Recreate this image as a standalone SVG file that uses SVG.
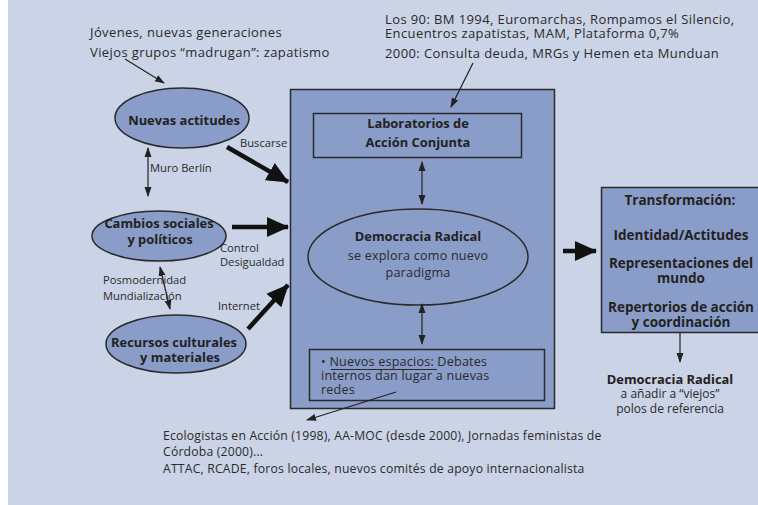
<svg xmlns="http://www.w3.org/2000/svg" width="758" height="505" viewBox="0 0 758 505">
<defs>
<marker id="a" markerUnits="userSpaceOnUse" markerWidth="10" markerHeight="10" viewBox="0 0 10 10" refX="9" refY="5" orient="auto-start-reverse"><path d="M0,1.5 L10,5 L0,8.5 Z" fill="#222"/></marker>
<marker id="b" markerUnits="userSpaceOnUse" markerWidth="22" markerHeight="22" viewBox="0 0 22 22" refX="21" refY="11" orient="auto"><path d="M0,1 L22,11 L0,21 Z" fill="#111"/></marker>
<style>
.t{font-family:"Open Sans","Liberation Sans",Arial,sans-serif;fill:#2a2a2a}
.s{font-size:13px;letter-spacing:0.4px}
.m{font-size:11.2px}
.l{font-size:12.6px;letter-spacing:0.2px}
.bt{font-size:12.2px;letter-spacing:0.2px}
.r{font-size:12px}
.bd{font-weight:bold;font-size:12.9px;fill:#222}
.tb{font-weight:bold;font-size:13.5px;fill:#222}
.node{fill:#8a9cc8;stroke:#2a2a2a;stroke-width:1.5}
.thin{stroke:#222;stroke-width:1.2;fill:none}
.thick{stroke:#111;stroke-width:4.5;fill:none}
</style>
</defs>
<rect x="0" y="0" width="758" height="505" fill="#ffffff"/>
<rect x="8" y="0" width="750" height="505" fill="#cbd3e6"/>

<g id="top-left-text" class="t s">
<text x="90" y="37">Jóvenes, nuevas generaciones</text>
<text x="90" y="57">Viejos grupos “madrugan”: zapatismo</text>
</g>
<g id="top-right-text" class="t s">
<text x="385" y="24">Los 90: BM 1994, Euromarchas, Rompamos el Silencio,</text>
<text x="385" y="38">Encuentros zapatistas, MAM, Plataforma 0,7%</text>
<text x="385" y="58">2000: Consulta deuda, MRGs y Hemen eta Munduan</text>
</g>

<g id="main-box"><rect class="node" x="290.5" y="89.5" width="264" height="319"/></g>
<g id="laboratorios">
<rect class="node" x="313.5" y="113.5" width="208" height="44"/>
<text class="t bd" x="418" y="128" text-anchor="middle">Laboratorios de</text>
<text class="t bd" x="418" y="147" text-anchor="middle">Acción Conjunta</text>
</g>
<g id="democracia">
<ellipse class="node" cx="418" cy="257" rx="110" ry="48" stroke-width="2"/>
<text class="t bd" x="418" y="241" text-anchor="middle">Democracia Radical</text>
<text class="t l" x="418" y="260" text-anchor="middle">se explora como nuevo</text>
<text class="t l" x="418" y="277" text-anchor="middle">paradigma</text>
</g>
<g id="nuevos-espacios">
<rect class="node" x="309.5" y="349.5" width="235" height="51"/>
<text class="t l" x="321" y="366">• Nuevos espacios: Debates</text>
<text class="t l" x="321" y="380">internos dan lugar a nuevas</text>
<text class="t l" x="321" y="394">redes</text>
<line x1="331" y1="369.5" x2="437" y2="369.5" stroke="#2a2a2a" stroke-width="1"/>
</g>

<g id="nuevas-actitudes">
<ellipse class="node" cx="182" cy="118" rx="67" ry="30"/>
<text class="t bd" x="184" y="125" text-anchor="middle">Nuevas actitudes</text>
</g>
<g id="cambios">
<ellipse class="node" cx="159" cy="236" rx="67" ry="25"/>
<text class="t bd" x="159" y="228" text-anchor="middle">Cambios sociales</text>
<text class="t bd" x="160" y="244" text-anchor="middle">y políticos</text>
</g>
<g id="recursos">
<ellipse class="node" cx="176" cy="344" rx="70" ry="29"/>
<text class="t bd" x="174" y="347" text-anchor="middle">Recursos culturales</text>
<text class="t bd" x="180" y="362" text-anchor="middle">y materiales</text>
</g>

<g id="transformacion">
<rect class="node" x="601.5" y="187.5" width="160" height="145"/>
<text class="t tb" x="680" y="205" text-anchor="middle" font-size="13">Transformación:</text>
<text class="t tb" x="681" y="240" text-anchor="middle">Identidad/Actitudes</text>
<text class="t tb" x="681" y="268" text-anchor="middle">Representaciones del</text>
<text class="t tb" x="681" y="283" text-anchor="middle">mundo</text>
<text class="t tb" x="681" y="312" text-anchor="middle">Repertorios de acción</text>
<text class="t tb" x="681" y="327" text-anchor="middle">y coordinación</text>
</g>
<g id="democracia-final">
<text class="t bd" x="670" y="384" text-anchor="middle">Democracia Radical</text>
<text class="t r" x="670" y="398" text-anchor="middle">a añadir a “viejos”</text>
<text class="t r" x="670" y="413" text-anchor="middle">polos de referencia</text>
</g>

<g id="bottom-text" class="t bt">
<text x="163" y="440">Ecologistas en Acción (1998), AA-MOC (desde 2000), Jornadas feministas de</text>
<text x="163" y="456">Córdoba (2000)...</text>
<text x="163" y="473">ATTAC, RCADE, foros locales, nuevos comités de apoyo internacionalista</text>
</g>

<g id="connectors">
<line class="thin" x1="125" y1="59" x2="164" y2="83" marker-end="url(#a)"/>
<line class="thin" x1="473" y1="63" x2="451" y2="107" marker-end="url(#a)"/>
<line class="thin" x1="148" y1="148" x2="148" y2="196" marker-start="url(#a)" marker-end="url(#a)"/>
<line class="thin" x1="160" y1="267" x2="170" y2="309" marker-start="url(#a)" marker-end="url(#a)"/>
<line class="thin" x1="422" y1="162" x2="422" y2="204" marker-start="url(#a)" marker-end="url(#a)"/>
<line class="thin" x1="422" y1="304" x2="422" y2="344" marker-start="url(#a)" marker-end="url(#a)"/>
<line class="thin" x1="396" y1="392" x2="307" y2="420" marker-end="url(#a)"/>
<line class="thin" x1="680" y1="333" x2="680" y2="362" marker-end="url(#a)"/>
<line class="thick" x1="227" y1="147" x2="288" y2="182" marker-end="url(#b)"/>
<line class="thick" x1="232" y1="227" x2="288" y2="227" marker-end="url(#b)"/>
<line class="thick" x1="248" y1="329" x2="288" y2="285" marker-end="url(#b)"/>
<line class="thick" x1="563" y1="251" x2="596" y2="251" marker-end="url(#b)"/>
<g class="t m">
<text x="240" y="147">Buscarse</text>
<text x="150" y="172">Muro Berlín</text>
<text x="220" y="252">Control</text>
<text x="220" y="266">Desigualdad</text>
<text x="103" y="284">Posmodernidad</text>
<text x="103" y="300">Mundialización</text>
<text x="218" y="310">Internet</text>
</g>
</g>
</svg>
